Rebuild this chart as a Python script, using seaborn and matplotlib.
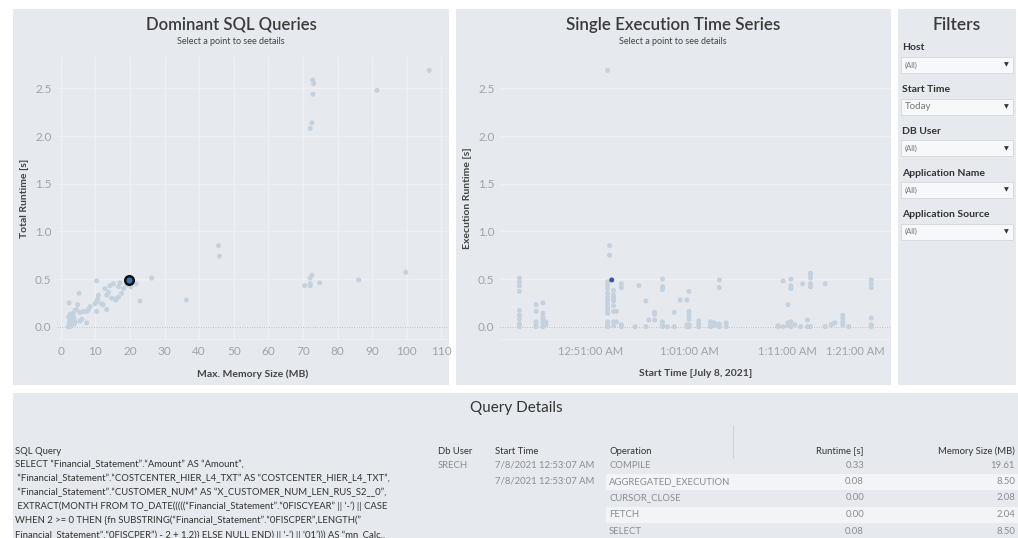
import matplotlib
matplotlib.use("Agg")
import matplotlib.pyplot as plt
import matplotlib.dates as mdates
from matplotlib.patches import Rectangle
import seaborn as sns
import pandas as pd

# Dominant SQL queries: max memory (MB) vs total runtime (s) --------------------------------------------
mem_mb = [106.5, 72.8, 73.1, 72.9, 72.6, 72.1, 91.4, 45.6, 45.9, 99.7, 72.6, 72.1, 72.1, 70.5, 72.1,
          74.8, 86.1, 36.3, 26.3, 22.9, 21.8, 10.4, 5.3, 2.4, 17.1, 16.7, 15.2, 14.2, 12.8, 13.8,
          13.3, 10.9, 10.7, 11.8, 12.3, 14.7, 15.7, 16.7, 17.6, 19.1, 10.4, 9.9, 13.3, 10.4, 8.5,
          8.0, 7.5, 6.5, 5.6, 4.6, 4.9, 4.1, 7.5, 6.1, 5.6, 3.6, 2.7, 2.2, 2.4, 2.6, 2.8,
          3.0, 2.5, 3.2, 2.9, 3.5, 3.8, 2.3, 3.6, 4.0, 3.3, 2.7, 4.2, 18.2, 16.0, 20.3]
total_rt = [2.69, 2.59, 2.55, 2.44, 2.14, 2.08, 2.48, 0.85, 0.74, 0.57, 0.54, 0.51, 0.45, 0.43, 0.43,
            0.46, 0.49, 0.28, 0.51, 0.27, 0.45, 0.48, 0.35, 0.25, 0.46, 0.42, 0.45, 0.43, 0.40, 0.36,
            0.33, 0.33, 0.29, 0.24, 0.23, 0.30, 0.29, 0.31, 0.35, 0.44, 0.26, 0.24, 0.18, 0.16, 0.21,
            0.18, 0.16, 0.16, 0.15, 0.18, 0.23, 0.17, 0.04, 0.08, 0.06, 0.14, 0.13, 0.00, 0.01, 0.02, 0.03,
            0.04, 0.05, 0.06, 0.08, 0.07, 0.09, 0.10, 0.11, 0.03, 0.02, 0.00, 0.05, 0.40, 0.28, 0.42]
sel_mem = [19.61]
sel_total = [0.49]

# Single executions: start time vs execution runtime (s) --------------------------------------------------
exec_start = (["00:43:42"] * 9 + ["00:45:24"] * 5 + ["00:46:06"] * 6 + ["00:46:24"] * 2
              + ["00:52:42"] * 14 + ["00:52:54"] * 2 + ["00:53:18"] * 8 + ["00:53:36"] * 2
              + ["00:54:06"] * 4 + ["00:55:30", "00:55:54"] + ["00:56:36"] * 2 + ["00:56:54"]
              + ["00:57:30"] * 3 + ["00:58:18"] * 6 + ["00:58:48"] + ["00:59:30"] * 2 + ["01:00:06"]
              + ["01:00:48"] * 3 + ["01:01:00"] * 6 + ["01:02:00"] * 3 + ["01:03:12"] * 3
              + ["01:03:36"] * 2 + ["01:04:06"] * 4 + ["01:04:48"] * 2 + ["01:10:06"] * 2
              + ["01:10:36"] * 2 + ["01:11:06"] * 3 + ["01:11:24"] * 5 + ["01:11:48", "01:12:24", "01:12:36"]
              + ["01:13:06"] * 2 + ["01:13:24"] * 6 + ["01:14:54"] * 2
              + ["01:15:30", "01:15:42", "01:15:54"] + ["01:16:42"] * 4 + ["01:17:18"] + ["01:19:36"] * 6)
exec_rt = ([0.51, 0.47, 0.43, 0.37, 0.17, 0.12, 0.08, 0.03, 0.00]
           + [0.23, 0.16, 0.05, 0.02, 0.00]
           + [0.25, 0.14, 0.10, 0.07, 0.035, 0.00]
           + [0.05, 0.02]
           + [2.69, 0.47, 0.44, 0.40, 0.35, 0.31, 0.28, 0.24, 0.20, 0.17, 0.14, 0.05, 0.02, 0.00]
           + [0.85, 0.75]
           + [0.38, 0.33, 0.30, 0.27, 0.22, 0.16, 0.05, 0.01]
           + [0.16, 0.05]
           + [0.45, 0.41, 0.02, 0.00]
           + [0.00, 0.43] + [0.27, 0.00] + [0.07]
           + [0.15, 0.13, 0.07] + [0.50, 0.42, 0.39, 0.05, 0.02, 0.00] + [0.00] + [0.15, 0.00] + [0.28]
           + [0.28, 0.02, 0.00] + [0.37, 0.16, 0.12, 0.08, 0.02, 0.00] + [0.06, 0.03, 0.00]
           + [0.05, 0.02, 0.00] + [0.04, 0.01] + [0.49, 0.41, 0.03, 0.00] + [0.04, 0.00]
           + [0.00, 0.01] + [0.48, 0.00] + [0.23, 0.04, 0.01] + [0.50, 0.43, 0.40, 0.05, 0.00]
           + [0.02, 0.00, 0.45] + [0.07, 0.00] + [0.56, 0.54, 0.51, 0.45, 0.42, 0.00] + [0.45, 0.00]
           + [0.02, 0.03, 0.04] + [0.12, 0.09, 0.05, 0.02] + [0.00] + [0.49, 0.45, 0.41, 0.09, 0.02, 0.00])
sel_start = ["00:53:07"]
sel_exec = [0.49]
time_ticks = ["00:51:00", "01:01:00", "01:11:00", "01:21:00"]

# Filters ---------------------------------------------------------------------------------------------------
filter_names = ["Host", "Start Time", "DB User", "Application Name", "Application Source"]
filter_values = ["(All)", "Today", "(All)", "(All)", "(All)"]

# Query details table ---------------------------------------------------------------------------------------
sql_lines = [
    'SELECT \u201cFinancial_Statement\u201d.\u201cAmount\u201d AS \u201cAmount\u201d,',
    ' \u201cFinancial_Statement\u201d.\u201cCOSTCENTER_HIER_L4_TXT\u201d AS \u201cCOSTCENTER_HIER_L4_TXT\u201d,',
    ' \u201cFinancial_Statement\u201d.\u201cCUSTOMER_NUM\u201d AS \u201cX_CUSTOMER_NUM_LEN_RUS_S2__0\u201d,',
    ' EXTRACT(MONTH FROM TO_DATE(((((\u201cFinancial_Statement\u201d.\u201c0FISCYEAR\u201d || \u2018-\u2019) || CASE',
    'WHEN 2 >= 0 THEN {fn SUBSTRING(\u201cFinancial_Statement\u201d.\u201c0FISCPER\u201d,LENGTH(\u201d',
    'Financial_Statement\u201d.\u201c0FISCPER\u201d) - 2 + 1,2)} ELSE NULL END) || \u2018-\u2019) || \u201801\u2019))) AS \u201cmn_Calc..',
]
db_user = "SRECH"
start_times = ["7/8/2021 12:53:07 AM", "7/8/2021 12:53:07 AM"]
operations = ["COMPILE", "AGGREGATED_EXECUTION", "CURSOR_CLOSE", "FETCH", "SELECT"]
op_runtime = [0.33, 0.08, 0.00, 0.00, 0.08]
op_memory = [19.61, 8.50, 2.08, 2.04, 8.50]

W, H = 1018, 538
PANEL = "#e6e9ed"
GRID = "#eef0f3"
DOT = "#c4d1df"
GREY = "#a0a4a9"
DARK = "#444444"

sns.set_theme(style="white")
plt.rcParams["font.family"] = ["Lato", "DejaVu Sans"]

fig = plt.figure(figsize=(W / 100, H / 100), dpi=100)
fig.patch.set_facecolor("white")


def rect(x0, y0, x1, y1):
    return [x0 / W, 1 - y1 / H, (x1 - x0) / W, (y1 - y0) / H]


def ftext(x, y, s, **kw):
    kw.setdefault("va", "center")
    fig.text(x / W, 1 - y / H, s, **kw)


def panel(x0, y0, x1, y1, color=PANEL):
    l, b, w, h = rect(x0, y0, x1, y1)
    fig.add_artist(Rectangle((l, b), w, h, transform=fig.transFigure, facecolor=color,
                             edgecolor="none", zorder=0))


def style_axes(ax, xgrid=True):
    ax.set_facecolor(PANEL)
    for sp in ax.spines.values():
        sp.set_visible(False)
    ax.grid(True, axis="y", color=GRID, linewidth=1)
    if xgrid:
        ax.grid(True, axis="x", color=GRID, linewidth=1)
    ax.axhline(-0.14, color=GRID, linewidth=1.2)
    ax.set_axisbelow(True)
    ax.tick_params(length=0, labelsize=8.5, labelcolor=GREY, pad=4)
    ax.axhline(0, color="#b9bcc0", linewidth=0.7, linestyle=(0, (1, 1.5)), zorder=1)
    ax.set_yticks([0.0, 0.5, 1.0, 1.5, 2.0, 2.5])
    ax.set_yticklabels(["0.0", "0.5", "1.0", "1.5", "2.0", "2.5"])
    ax.set_ylim(-0.14, 2.83)


panel(13, 9, 449, 385)
panel(456, 9, 891, 385)
panel(898, 9, 1016, 385)
panel(13, 393, 1018, 538)

# Left scatter
ax1 = fig.add_axes(rect(57, 57, 449, 340))
style_axes(ax1)
sns.scatterplot(x=mem_mb, y=total_rt, ax=ax1, s=13, color=DOT, edgecolor="none", linewidth=0, zorder=3)
sns.scatterplot(x=sel_mem, y=sel_total, ax=ax1, s=38, color="#3f73b5", edgecolor="#111111",
                linewidth=1.8, zorder=4)
ax1.set_xlim(-1.07, 112.2)
ax1.set_xticks(range(0, 111, 10))
ax1.set_xlabel("Max. Memory Size (MB)", fontsize=7.5, color=DARK, fontweight="bold", labelpad=9)
ax1.set_ylabel("Total Runtime [s]", fontsize=7.5, color=DARK, fontweight="bold", labelpad=4)
ftext(231, 25, "Dominant SQL Queries", ha="center", fontsize=12, fontweight="semibold", color="#3a3a3a")
ftext(231, 41, "Select a point to see details", ha="center", fontsize=6.5, color="#444444")

# Middle scatter
ex = pd.DataFrame({"start": pd.to_datetime(["2021-07-08 " + t for t in exec_start]), "rt": exec_rt})
sel = pd.DataFrame({"start": pd.to_datetime(["2021-07-08 " + t for t in sel_start]), "rt": sel_exec})
ax2 = fig.add_axes(rect(500, 57, 891, 340))
style_axes(ax2, xgrid=False)
sns.scatterplot(data=ex, x="start", y="rt", ax=ax2, s=13, color=DOT, edgecolor="none", linewidth=0, zorder=3)
sns.scatterplot(data=sel, x="start", y="rt", ax=ax2, s=13, color="#2f5d9c", edgecolor="none",
                linewidth=0, zorder=4)
ax2.set_xlim(pd.Timestamp("2021-07-08 00:41:43"), pd.Timestamp("2021-07-08 01:21:37"))
ax2.set_xticks(pd.to_datetime(["2021-07-08 " + t for t in time_ticks]))
ax2.xaxis.set_major_formatter(mdates.DateFormatter("%-I:%M:%S %p"))
ax2.tick_params(axis="x", labelsize=8)
ax2.get_xticklabels()[-1].set_horizontalalignment("right")
ax2.set_xlabel("Start Time [July 8, 2021]", fontsize=7.5, color=DARK, fontweight="bold", labelpad=9)
ax2.set_ylabel("Execution Runtime [s]", fontsize=7.5, color=DARK, fontweight="bold", labelpad=4)
ftext(673, 25, "Single Execution Time Series", ha="center", fontsize=12.2, fontweight="semibold",
      color="#3a3a3a")
ftext(673, 41, "Select a point to see details", ha="center", fontsize=6.5, color="#444444")

# Filters
ftext(957, 25, "Filters", ha="center", fontsize=12.5, fontweight="semibold", color="#3a3a3a")
for i, (name, val) in enumerate(zip(filter_names, filter_values)):
    y = 48 + i * 41.7
    ftext(902, y, name, ha="left", fontsize=7.5, fontweight="bold", color="#333333")
    bx = rect(901, y + 9, 1013, y + 25)
    fig.add_artist(Rectangle((bx[0], bx[1]), bx[2], bx[3], transform=fig.transFigure,
                             facecolor="#f7f8f9", edgecolor="#d4d7db", linewidth=0.6, zorder=1))
    ftext(905, y + 17, val, ha="left", fontsize=7 if val == "Today" else 5.5, color="#777777")
    ftext(1006, y + 17, "\u25bc", ha="center", fontsize=4.5, color="#333333")

# Query details
ftext(516, 408, "Query Details", ha="center", fontsize=11, color="#333333")
fig.add_artist(plt.Line2D([733 / W, 733 / W], [1 - 425 / H, 1 - 458 / H], transform=fig.transFigure,
                          color="#cfd2d6", linewidth=0.8))
hy = 451
fs = 6.8
ftext(15, hy, "SQL Query", ha="left", fontsize=fs, color="#333333")
ftext(438, hy, "Db User", ha="left", fontsize=fs, color="#333333")
ftext(495, hy, "Start Time", ha="left", fontsize=fs, color="#333333")
ftext(609, hy, "Operation", ha="left", fontsize=fs, color="#333333")
ftext(864, hy, "Runtime [s]", ha="right", fontsize=fs, color="#333333")
ftext(1015, hy, "Memory Size (MB)", ha="right", fontsize=fs, color="#333333")
for i, line in enumerate(sql_lines):
    ftext(15, 464 + i * 14.2, line, ha="left", fontsize=fs, color="#333333")
ftext(438, 465, db_user, ha="left", fontsize=fs, color="#8a8d91")
for i, st in enumerate(start_times):
    ftext(495, 465 + i * 16.5, st, ha="left", fontsize=fs, color="#8a8d91")
for i in (1, 3):
    y = 465 + i * 16.5
    panel(606, y - 8, 1018, y + 8, color="#f2f4f6")
for i, (op, rt, mem) in enumerate(zip(operations, op_runtime, op_memory)):
    y = 465 + i * 16.5
    ftext(609, y, op, ha="left", fontsize=fs, color="#8a8d91")
    ftext(864, y, f"{rt:.2f}", ha="right", fontsize=fs, color="#8a8d91")
    ftext(1015, y, f"{mem:.2f}", ha="right", fontsize=fs, color="#8a8d91")

fig.savefig("out.png", dpi=100)
